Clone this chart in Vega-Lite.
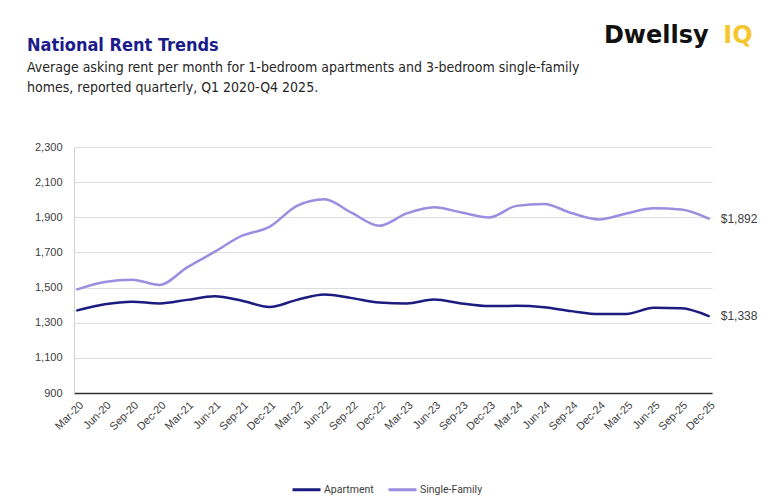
{
  "$schema": "https://vega.github.io/schema/vega-lite/v6.json",
  "autosize": {"type": "none"},
  "width": 638,
  "height": 246,
  "padding": {"left": 74, "top": 147, "right": 56, "bottom": 108},
  "background": "white",
  "title": {
    "text": "National Rent Trends",
    "subtitle": ["Average asking rent per month for 1-bedroom apartments and 3-bedroom single-family", "homes, reported quarterly, Q1 2020-Q4 2025."],
    "anchor": "start",
    "frame": "group",
    "dx": -47,
    "dy": 117,
    "offset": 46,
    "font": "DejaVu Sans Condensed, Roboto Condensed, Roboto",
    "fontSize": 18,
    "fontWeight": "bold",
    "color": "#1b1b8a",
    "subtitleFont": "DejaVu Sans Condensed, Roboto Condensed, Roboto",
    "subtitleFontSize": 14,
    "subtitleColor": "#262626",
    "subtitleLineHeight": 20,
    "subtitlePadding": 6
  },
  "data": {
    "values": [
      {"quarter": "Mar-20", "type": "Apartment", "rent": 1370},
      {"quarter": "Jun-20", "type": "Apartment", "rent": 1405},
      {"quarter": "Sep-20", "type": "Apartment", "rent": 1420},
      {"quarter": "Dec-20", "type": "Apartment", "rent": 1410},
      {"quarter": "Mar-21", "type": "Apartment", "rent": 1430},
      {"quarter": "Jun-21", "type": "Apartment", "rent": 1450},
      {"quarter": "Sep-21", "type": "Apartment", "rent": 1425},
      {"quarter": "Dec-21", "type": "Apartment", "rent": 1390},
      {"quarter": "Mar-22", "type": "Apartment", "rent": 1430},
      {"quarter": "Jun-22", "type": "Apartment", "rent": 1460},
      {"quarter": "Sep-22", "type": "Apartment", "rent": 1440},
      {"quarter": "Dec-22", "type": "Apartment", "rent": 1415},
      {"quarter": "Mar-23", "type": "Apartment", "rent": 1410},
      {"quarter": "Jun-23", "type": "Apartment", "rent": 1432},
      {"quarter": "Sep-23", "type": "Apartment", "rent": 1410},
      {"quarter": "Dec-23", "type": "Apartment", "rent": 1395},
      {"quarter": "Mar-24", "type": "Apartment", "rent": 1396},
      {"quarter": "Jun-24", "type": "Apartment", "rent": 1388},
      {"quarter": "Sep-24", "type": "Apartment", "rent": 1366},
      {"quarter": "Dec-24", "type": "Apartment", "rent": 1349},
      {"quarter": "Mar-25", "type": "Apartment", "rent": 1350},
      {"quarter": "Jun-25", "type": "Apartment", "rent": 1385},
      {"quarter": "Sep-25", "type": "Apartment", "rent": 1382},
      {"quarter": "Dec-25", "type": "Apartment", "rent": 1338},
      {"quarter": "Mar-20", "type": "Single-Family", "rent": 1490},
      {"quarter": "Jun-20", "type": "Single-Family", "rent": 1532},
      {"quarter": "Sep-20", "type": "Single-Family", "rent": 1545},
      {"quarter": "Dec-20", "type": "Single-Family", "rent": 1515},
      {"quarter": "Mar-21", "type": "Single-Family", "rent": 1615},
      {"quarter": "Jun-21", "type": "Single-Family", "rent": 1703},
      {"quarter": "Sep-21", "type": "Single-Family", "rent": 1795},
      {"quarter": "Dec-21", "type": "Single-Family", "rent": 1845},
      {"quarter": "Mar-22", "type": "Single-Family", "rent": 1965},
      {"quarter": "Jun-22", "type": "Single-Family", "rent": 2003},
      {"quarter": "Sep-22", "type": "Single-Family", "rent": 1925},
      {"quarter": "Dec-22", "type": "Single-Family", "rent": 1852},
      {"quarter": "Mar-23", "type": "Single-Family", "rent": 1922},
      {"quarter": "Jun-23", "type": "Single-Family", "rent": 1957},
      {"quarter": "Sep-23", "type": "Single-Family", "rent": 1927},
      {"quarter": "Dec-23", "type": "Single-Family", "rent": 1899},
      {"quarter": "Mar-24", "type": "Single-Family", "rent": 1965},
      {"quarter": "Jun-24", "type": "Single-Family", "rent": 1976},
      {"quarter": "Sep-24", "type": "Single-Family", "rent": 1924},
      {"quarter": "Dec-24", "type": "Single-Family", "rent": 1888},
      {"quarter": "Mar-25", "type": "Single-Family", "rent": 1922},
      {"quarter": "Jun-25", "type": "Single-Family", "rent": 1951},
      {"quarter": "Sep-25", "type": "Single-Family", "rent": 1944},
      {"quarter": "Dec-25", "type": "Single-Family", "rent": 1892}
    ]
  },
  "encoding": {
    "x": {
      "field": "quarter",
      "type": "nominal",
      "sort": null,
      "scale": {"type": "point", "padding": 0.12},
      "axis": {
        "title": null,
        "labelAngle": -45,
        "labelAlign": "right",
        "labelBaseline": "top",
        "labelFont": "Liberation Sans",
        "labelFontSize": 11,
        "labelColor": "#404040",
        "labelPadding": 6,
        "ticks": false,
        "grid": false,
        "domainColor": "#333333",
        "domainWidth": 1.5
      }
    },
    "y": {
      "field": "rent",
      "type": "quantitative",
      "scale": {"domain": [900, 2300], "nice": false, "zero": false},
      "axis": {
        "title": null,
        "values": [900, 1100, 1300, 1500, 1700, 1900, 2100, 2300],
        "format": ",d",
        "labelFont": "Liberation Sans",
        "labelFontSize": 11,
        "labelColor": "#404040",
        "labelPadding": 12,
        "ticks": false,
        "gridColor": "#dddddd",
        "gridWidth": 1,
        "domainColor": "#d0d0d0",
        "domainWidth": 1
      }
    }
  },
  "layer": [
    {
      "mark": {"type": "line", "interpolate": "monotone", "strokeWidth": 2.5, "strokeCap": "round"},
      "encoding": {
        "color": {
          "field": "type",
          "type": "nominal",
          "scale": {"domain": ["Apartment", "Single-Family"], "range": ["#1b1b80", "#9b8ee0"]},
          "legend": {
            "title": null,
            "orient": "none",
            "legendX": 217,
            "legendY": 327,
            "direction": "horizontal",
            "symbolType": "stroke",
            "symbolSize": 784,
            "symbolStrokeWidth": 3,
            "labelFont": "Roboto",
            "labelFontSize": 10.5,
            "labelColor": "#404040",
            "columnPadding": 8,
            "labelOffset": 2
          }
        }
      }
    },
    {
      "transform": [{"filter": "datum.quarter === 'Dec-25'"}],
      "mark": {"type": "text", "align": "left", "baseline": "middle", "dx": 12, "font": "Liberation Sans", "fontSize": 12, "color": "#404040"},
      "encoding": {
        "text": {"field": "rent", "type": "quantitative", "format": "$,d"}
      }
    },
    {
      "data": {"values": [{"word": "Dwellsy", "quarter": "Dec-25", "rent": 2890}]},
      "mark": {"type": "text", "align": "right", "baseline": "alphabetic", "dx": 0, "font": "DejaVu Sans", "fontWeight": "bold", "fontSize": 24, "color": "#111111", "clip": false},
      "encoding": {
        "text": {"field": "word", "type": "nominal"}
      }
    },
    {
      "data": {"values": [{"word": "IQ", "quarter": "Dec-25", "rent": 2890}]},
      "mark": {"type": "text", "align": "right", "baseline": "alphabetic", "dx": 44, "font": "DejaVu Sans", "fontWeight": "bold", "fontSize": 24, "color": "#f6c630", "clip": false},
      "encoding": {
        "text": {"field": "word", "type": "nominal"}
      }
    }
  ],
  "config": {"view": {"stroke": null}}
}
